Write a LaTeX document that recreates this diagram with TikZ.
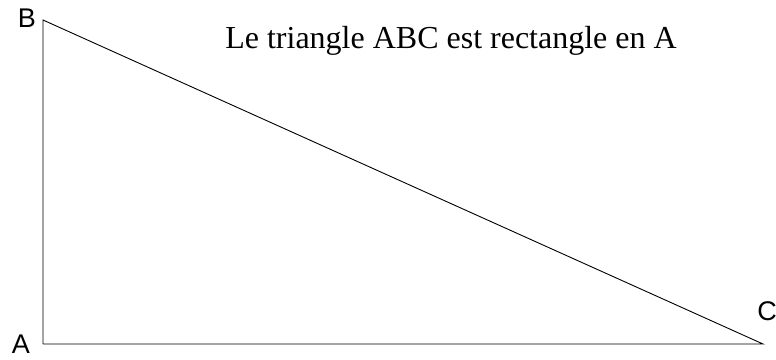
\documentclass[tikz,border=0pt]{standalone}
\usepackage{fontspec}
\setmainfont{Liberation Serif}
\setsansfont{Liberation Sans}
\begin{document}
\begin{tikzpicture}[x=1pt,y=-1pt,
  sommet/.style={font=\sffamily\fontsize{27}{27}\selectfont, inner sep=0pt}]
\useasboundingbox (0,0) rectangle (776,359);
\coordinate (A) at (43,344);
\coordinate (B) at (43,20);
\coordinate (C) at (763,344);
\draw[line width=0.9pt] (A)--(B)--(C)--(A);
\node[sommet] (lA) at (21,344) {A};
\node[sommet] (lB) at (27,18) {B};
\node[sommet] (lC) at (767,311) {C};
\node[font=\fontsize{32}{32}\selectfont, inner sep=0pt] (titre) at (451,41) {Le triangle ABC est rectangle en A};
\end{tikzpicture}
\end{document}
